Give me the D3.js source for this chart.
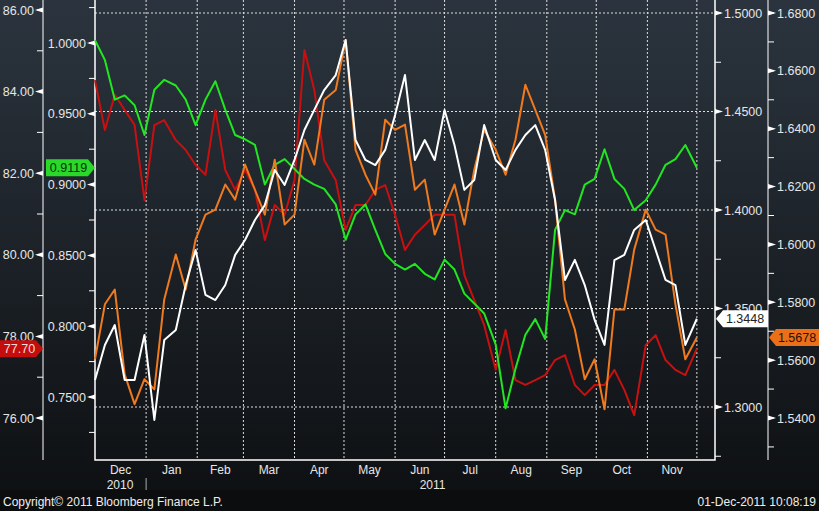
<!DOCTYPE html>
<html><head><meta charset="utf-8">
<script src="https://cdn.jsdelivr.net/npm/d3@7"></script>
<style>body{margin:0;background:#111;}svg{display:block;font-family:"Liberation Sans",Arial,sans-serif;}</style>
</head><body><svg id="c" width="819" height="511"></svg>
<script>
// Data: one point every ~6 days from 01-Dec-2010 to 01-Dec-2011
const startDate = new Date(2010, 11, 1);
const stepDays = 6.064;
const redValues = [84.28,83.06,83.92,83.55,83.18,81.34,83.18,83.30,82.81,82.57,82.20,81.96,83.55,82.08,81.59,82.08,81.59,80.36,81.22,80.98,81.83,85.02,84.04,82.32,81.83,80.61,81.22,81.22,81.59,81.71,80.98,80.12,80.49,80.73,80.98,80.98,80.98,79.50,78.89,78.28,77.18,78.16,76.93,76.81,76.93,77.05,77.42,77.54,76.81,76.56,76.81,76.81,77.18,76.69,76.07,77.79,78.03,77.42,77.18,77.05,77.70];
const greenValues = [1.002,0.988,0.960,0.963,0.956,0.935,0.967,0.974,0.970,0.960,0.942,0.960,0.973,0.953,0.935,0.932,0.928,0.900,0.914,0.918,0.911,0.904,0.900,0.897,0.886,0.861,0.879,0.886,0.868,0.851,0.844,0.840,0.844,0.837,0.833,0.847,0.840,0.823,0.816,0.809,0.787,0.742,0.770,0.794,0.805,0.791,0.868,0.882,0.879,0.900,0.904,0.925,0.904,0.897,0.882,0.889,0.900,0.914,0.918,0.928,0.9119];
const whiteValues = [1.3137,1.3315,1.3416,1.3137,1.3137,1.3366,1.2934,1.3340,1.3391,1.3619,1.3797,1.3569,1.3543,1.3619,1.3772,1.3848,1.3949,1.4025,1.4203,1.4127,1.4254,1.4406,1.4508,1.4609,1.4685,1.4863,1.4355,1.4254,1.4228,1.4305,1.4482,1.4685,1.4254,1.4355,1.4254,1.4508,1.4330,1.4102,1.4152,1.4431,1.4254,1.4203,1.4305,1.4381,1.4431,1.4305,1.4051,1.3645,1.3747,1.3619,1.3442,1.3315,1.3746,1.3772,1.3899,1.3949,1.3797,1.3645,1.3619,1.3315,1.3448];
const orangeValues = [1.5603,1.5793,1.5844,1.5551,1.5448,1.5534,1.5499,1.5810,1.5965,1.5844,1.6017,1.6103,1.6120,1.6207,1.6155,1.6276,1.6189,1.6103,1.6293,1.6069,1.6103,1.6362,1.6276,1.6500,1.6534,1.6707,1.6327,1.6241,1.6172,1.6431,1.6396,1.6414,1.6189,1.6224,1.6034,1.6120,1.6207,1.6069,1.6258,1.6396,1.6327,1.6241,1.6362,1.6552,1.6465,1.6379,1.6155,1.5810,1.5706,1.5534,1.5603,1.5430,1.5775,1.5775,1.5982,1.6120,1.6051,1.6034,1.5793,1.5603,1.5678];
const redTicks = [76,78,80,82,84,86];
const greenTicks = [0.75,0.80,0.85,0.90,0.95,1.00];
const whiteTicks = [1.30,1.35,1.40,1.45,1.50];
const orangeTicks = [1.54,1.56,1.58,1.60,1.62,1.64,1.66,1.68];
const monthLabels = ["Dec","Jan","Feb","Mar","Apr","May","Jun","Jul","Aug","Sep","Oct","Nov"];

const svg = d3.select("#c");
const L=95, R=715, B=460;
const dates = redValues.map((_,i)=>d3.timeDay.offset(startDate, Math.round(i*stepDays)));
dates[dates.length-1] = new Date(2011,11,1);
const x = d3.scaleTime().domain([new Date(2010,11,1), new Date(2011,11,12)]).range([L,R]);
const yRed = d3.scaleLinear().domain([86,76]).range([10,418]);
const yGreen = d3.scaleLinear().domain([1.0,0.75]).range([43,397]);
const yWhite = d3.scaleLinear().domain([1.5,1.3]).range([13,407]);
const yOrange = d3.scaleLinear().domain([1.68,1.54]).range([13,418]);

const defs = svg.append("defs");
const g = defs.append("linearGradient").attr("id","bg").attr("x1",0).attr("y1",0).attr("x2",0).attr("y2",1);
g.append("stop").attr("offset",0).attr("stop-color","#2b343e");
g.append("stop").attr("offset",1).attr("stop-color","#0d0f11");
svg.append("rect").attr("width",819).attr("height",511).attr("fill","url(#bg)");
svg.append("rect").attr("y",490).attr("width",819).attr("height",21).attr("fill","#0c0d0e");

// grid
const months = d3.timeMonth.range(new Date(2011,0,1), new Date(2011,11,2));
svg.append("g").selectAll("line").data(months).join("line")
 .attr("x1",d=>x(d)).attr("x2",d=>x(d)).attr("y1",0).attr("y2",B)
 .attr("stroke","#ddd").attr("stroke-dasharray","2,2").attr("stroke-width",1);
svg.append("g").selectAll("line").data(whiteTicks).join("line")
 .attr("x1",L).attr("x2",R).attr("y1",d=>yWhite(d)).attr("y2",d=>yWhite(d))
 .attr("stroke","#ddd").attr("stroke-dasharray","2,2");

// frame
svg.append("path").attr("d",`M${L},0V${B}H${R}V0`).attr("fill","none").attr("stroke","#fff").attr("stroke-width",1.5);
svg.append("line").attr("x1",43).attr("x2",43).attr("y1",0).attr("y2",B).attr("stroke","#fff");
svg.append("line").attr("x1",768).attr("x2",768).attr("y1",0).attr("y2",B).attr("stroke","#fff");

function axisTicks(scale, ticks, minorStep, xLine, side, fmt){
  const gr = svg.append("g");
  const [d0,d1] = scale.domain();
  const lo=Math.min(d0,d1), hi=Math.max(d0,d1);
  const minors = d3.range(Math.ceil(lo/minorStep)*minorStep - minorStep*2, hi+minorStep*3, minorStep)
    .filter(v=>scale(v)>0 && scale(v)<B-2);
  const dir = side==="left" ? -1 : 1;
  gr.selectAll(".mn").data(minors).join("line")
    .attr("x1",xLine).attr("x2",xLine+dir*6).attr("y1",d=>scale(d)).attr("y2",d=>scale(d)).attr("stroke","#fff");
  gr.selectAll(".tr").data(ticks).join("path")
    .attr("d",d=>{const y=scale(d);return `M${xLine},${y-2.5}L${xLine},${y+2.5}L${xLine+dir*8},${y}Z`;}).attr("fill","#fff");
  gr.selectAll("text").data(ticks).join("text")
    .attr("x", side==="left" ? xLine-9 : xLine+9).attr("y",d=>scale(d)+4.5)
    .attr("text-anchor", side==="left"?"end":"start").attr("fill","#e6e6e6").attr("font-size",12.5)
    .text(fmt);
}
axisTicks(yRed, redTicks, 1, 43, "left", d=>d.toFixed(2));
axisTicks(yGreen, greenTicks, 0.025, L, "left", d=>d.toFixed(4));
axisTicks(yWhite, whiteTicks, 0.025, R, "right", d=>d.toFixed(4));
axisTicks(yOrange, orangeTicks, 0.01, 768, "right", d=>d.toFixed(4));

// month labels
const mStarts = d3.timeMonth.range(new Date(2010,11,1), new Date(2011,11,1));
svg.append("g").selectAll("text").data(mStarts).join("text")
 .attr("x",(d,i)=>(x(d)+x(d3.timeMonth.offset(d,1)))/2).attr("y",474)
 .attr("text-anchor","middle").attr("fill","#e6e6e6").attr("font-size",12).text((d,i)=>monthLabels[i]);
svg.append("text").attr("x",120).attr("y",489).attr("text-anchor","middle").attr("fill","#e6e6e6").attr("font-size",12).text("2010");
svg.append("text").attr("x",x(new Date(2011,6,1))-12).attr("y",489).attr("text-anchor","middle").attr("fill","#e6e6e6").attr("font-size",12).text("2011");
svg.append("line").attr("x1",x(new Date(2011,0,1))).attr("x2",x(new Date(2011,0,1))).attr("y1",478).attr("y2",490).attr("stroke","#aaa");

// series
function line(vals, scale, color){
  svg.append("path").datum(vals).attr("fill","none").attr("stroke",color).attr("stroke-width",2).attr("stroke-linejoin","round")
   .attr("d", d3.line().x((d,i)=>x(dates[i])).y(d=>scale(d)));
}
line(redValues, yRed, "#c81010");
line(greenValues, yGreen, "#22e622");
line(orangeValues, yOrange, "#f07a1e");
line(whiteValues, yWhite, "#ffffff");

// last value tags
function tag(xl, xr, y, pointer, bg, fg, txt){
  const h=17, t=y-h/2;
  let d;
  if(pointer==="right") d=`M${xl},${t}H${xr-7}L${xr},${y}L${xr-7},${t+h}H${xl}Z`;
  else d=`M${xl+7},${t}H${xr}V${t+h}H${xl+7}L${xl},${y}Z`;
  svg.append("path").attr("d",d).attr("fill",bg);
  svg.append("text").attr("x",(xl+xr)/2+(pointer==="right"?-2:3)).attr("y",y+4.5).attr("text-anchor","middle").attr("fill",fg).attr("font-size",12.5).text(txt);
}
tag(46, 95, yGreen(greenValues[greenValues.length-1]), "right", "#2ad82a", "#063006", d3.format(".4f")(greenValues[greenValues.length-1]));
tag(0, 43, yRed(redValues[redValues.length-1])+0, "right", "#c40e0e", "#f2dada", d3.format(".2f")(redValues[redValues.length-1]));
tag(716, 768, yWhite(whiteValues[whiteValues.length-1]), "left", "#ffffff", "#222", d3.format(".4f")(whiteValues[whiteValues.length-1]));
tag(769, 819, yOrange(orangeValues[orangeValues.length-1]), "left", "#ea6f18", "#2a1000", d3.format(".4f")(orangeValues[orangeValues.length-1]));

svg.append("text").attr("x",3).attr("y",506).attr("fill","#eee").attr("font-size",12).text("Copyright\u00a9 2011 Bloomberg Finance L.P.");
svg.append("text").attr("x",816).attr("y",506).attr("text-anchor","end").attr("fill","#eee").attr("font-size",12).text("01-Dec-2011 10:08:19");
</script></body></html>
